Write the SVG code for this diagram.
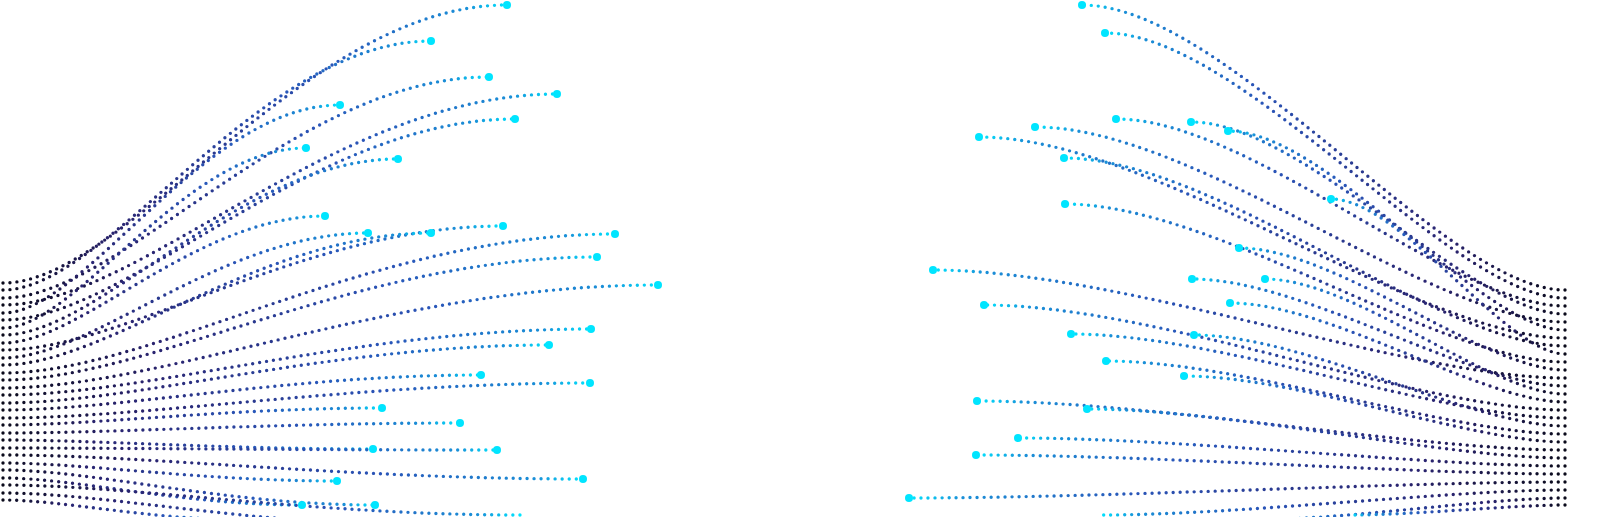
<svg xmlns="http://www.w3.org/2000/svg" width="1600" height="517" viewBox="0 0 1600 517">
<defs>
<linearGradient id="gl" x1="0" y1="0" x2="1" y2="0"><stop offset="0" stop-color="#0a0a1a"/><stop offset="0.25" stop-color="#2a2470"/><stop offset="0.65" stop-color="#2a55b8"/><stop offset="0.92" stop-color="#1a90d8"/><stop offset="1" stop-color="#00e5ff"/></linearGradient>
<linearGradient id="gr" x1="1" y1="0" x2="0" y2="0"><stop offset="0" stop-color="#0a0a1a"/><stop offset="0.25" stop-color="#2a2470"/><stop offset="0.65" stop-color="#2a55b8"/><stop offset="0.92" stop-color="#1a90d8"/><stop offset="1" stop-color="#00e5ff"/></linearGradient>
<style>
.l{fill:none;stroke:url(#gl);stroke-width:3.4;stroke-linecap:round;stroke-dasharray:0 7}
.r{fill:none;stroke:url(#gr);stroke-width:3.4;stroke-linecap:round;stroke-dasharray:0 7}
.t{fill:#00e5ff}
</style>
</defs>
<rect width="1600" height="517" fill="#fff"/>
<g id="left">
<path class="l" d="M3,283 C127,283 304,5 507,5"/>
<path class="l" d="M3,290 C108,290 259,41 431,41"/>
<path class="l" d="M3,298 C122,298 293,77 489,77"/>
<path class="l" d="M3,305 C139,305 334,94 557,94"/>
<path class="l" d="M3,313 C85,313 204,105 340,105"/>
<path class="l" d="M3,320 C129,320 309,119 515,119"/>
<path class="l" d="M3,328 C77,328 184,148 306,148"/>
<path class="l" d="M3,335 C100,335 239,159 398,159"/>
<path class="l" d="M3,343 C81,343 195,216 325,216"/>
<path class="l" d="M3,350 C126,350 302,226 503,226"/>
<path class="l" d="M3,358 C92,358 221,233 368,233"/>
<path class="l" d="M3,365 C108,365 259,233 431,233"/>
<path class="l" d="M3,373 C154,373 369,234 615,234"/>
<path class="l" d="M3,380 C149,380 358,257 597,257"/>
<path class="l" d="M3,388 C165,388 395,285 658,285"/>
<path class="l" d="M3,395 C148,395 355,329 591,329"/>
<path class="l" d="M3,403 C137,403 329,345 549,345"/>
<path class="l" d="M3,410 C120,410 289,375 481,375"/>
<path class="l" d="M3,418 C148,418 354,383 590,383"/>
<path class="l" d="M3,425 C96,425 229,408 382,408"/>
<path class="l" d="M3,433 C115,433 276,423 460,423"/>
<path class="l" d="M3,440 C93,440 224,449 373,449"/>
<path class="l" d="M3,448 C124,448 298,450 497,450"/>
<path class="l" d="M3,455 C146,455 350,479 583,479"/>
<path class="l" d="M3,463 C84,463 202,481 337,481"/>
<path class="l" d="M3,470 C94,470 225,505 375,505"/>
<path class="l" d="M3,478 C76,478 181,505 302,505"/>
<path class="l" d="M3,485 C130,485 312,515 520,515"/>
<path class="l" d="M3,493 C105,493 252,525 420,525"/>
<path class="l" d="M3,500 C63,500 150,520 250,520"/>
<g class="t"><circle cx="507" cy="5" r="4"/><circle cx="431" cy="41" r="4"/><circle cx="489" cy="77" r="4"/><circle cx="557" cy="94" r="4"/><circle cx="340" cy="105" r="4"/><circle cx="515" cy="119" r="4"/><circle cx="306" cy="148" r="4"/><circle cx="398" cy="159" r="4"/><circle cx="325" cy="216" r="4"/><circle cx="503" cy="226" r="4"/><circle cx="368" cy="233" r="4"/><circle cx="431" cy="233" r="4"/><circle cx="615" cy="234" r="4"/><circle cx="597" cy="257" r="4"/><circle cx="658" cy="285" r="4"/><circle cx="591" cy="329" r="4"/><circle cx="549" cy="345" r="4"/><circle cx="481" cy="375" r="4"/><circle cx="590" cy="383" r="4"/><circle cx="382" cy="408" r="4"/><circle cx="460" cy="423" r="4"/><circle cx="373" cy="449" r="4"/><circle cx="497" cy="450" r="4"/><circle cx="583" cy="479" r="4"/><circle cx="337" cy="481" r="4"/><circle cx="375" cy="505" r="4"/><circle cx="302" cy="505" r="4"/></g>
</g>
<g id="right">
<path class="r" d="M1565,290 C1444,290 1227,5 1082,5"/>
<path class="r" d="M1565,298 C1450,298 1243,33 1105,33"/>
<path class="r" d="M1565,306 C1452,306 1251,119 1116,119"/>
<path class="r" d="M1565,314 C1471,314 1303,122 1191,122"/>
<path class="r" d="M1565,322 C1432,322 1196,127 1035,127"/>
<path class="r" d="M1565,330 C1480,330 1329,131 1228,131"/>
<path class="r" d="M1565,338 C1418,338 1155,137 979,137"/>
<path class="r" d="M1565,346 C1440,346 1214,158 1064,158"/>
<path class="r" d="M1565,354 C1506,354 1401,199 1331,199"/>
<path class="r" d="M1565,362 C1440,362 1215,204 1065,204"/>
<path class="r" d="M1565,370 C1483,370 1337,248 1239,248"/>
<path class="r" d="M1565,378 C1407,378 1122,270 933,270"/>
<path class="r" d="M1565,386 C1471,386 1304,279 1192,279"/>
<path class="r" d="M1565,394 C1490,394 1355,279 1265,279"/>
<path class="r" d="M1565,402 C1481,402 1331,303 1230,303"/>
<path class="r" d="M1565,410 C1419,410 1158,305 984,305"/>
<path class="r" d="M1565,418 C1441,418 1219,334 1071,334"/>
<path class="r" d="M1565,426 C1472,426 1305,335 1194,335"/>
<path class="r" d="M1565,434 C1450,434 1244,361 1106,361"/>
<path class="r" d="M1565,442 C1470,442 1298,376 1184,376"/>
<path class="r" d="M1565,450 C1418,450 1153,401 977,401"/>
<path class="r" d="M1565,458 C1445,458 1230,409 1087,409"/>
<path class="r" d="M1565,466 C1428,466 1182,438 1018,438"/>
<path class="r" d="M1565,474 C1418,474 1152,455 976,455"/>
<path class="r" d="M1565,482 C1401,482 1106,498 909,498"/>
<path class="r" d="M1565,490 C1449,490 1240,515 1100,515"/>
<path class="r" d="M1565,498 C1486,498 1344,520 1250,520"/>
<path class="r" d="M1565,505 C1511,505 1415,515 1350,515"/>
<g class="t"><circle cx="1082" cy="5" r="4"/><circle cx="1105" cy="33" r="4"/><circle cx="1116" cy="119" r="4"/><circle cx="1191" cy="122" r="4"/><circle cx="1035" cy="127" r="4"/><circle cx="1228" cy="131" r="4"/><circle cx="979" cy="137" r="4"/><circle cx="1064" cy="158" r="4"/><circle cx="1331" cy="199" r="4"/><circle cx="1065" cy="204" r="4"/><circle cx="1239" cy="248" r="4"/><circle cx="933" cy="270" r="4"/><circle cx="1192" cy="279" r="4"/><circle cx="1265" cy="279" r="4"/><circle cx="1230" cy="303" r="4"/><circle cx="984" cy="305" r="4"/><circle cx="1071" cy="334" r="4"/><circle cx="1194" cy="335" r="4"/><circle cx="1106" cy="361" r="4"/><circle cx="1184" cy="376" r="4"/><circle cx="977" cy="401" r="4"/><circle cx="1087" cy="409" r="4"/><circle cx="1018" cy="438" r="4"/><circle cx="976" cy="455" r="4"/><circle cx="909" cy="498" r="4"/></g>
</g>
</svg>
